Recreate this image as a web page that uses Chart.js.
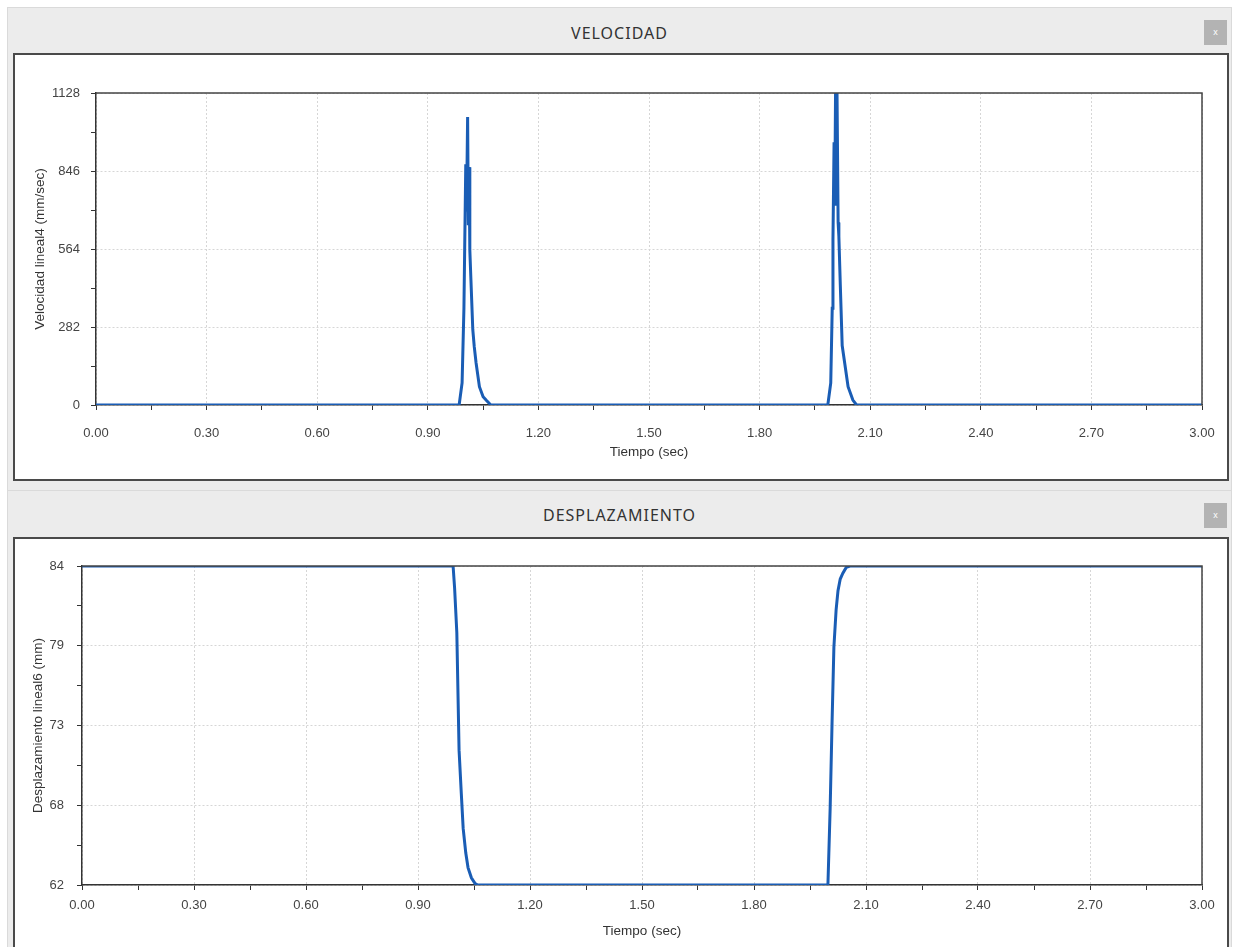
<!DOCTYPE html>
<html>
<head>
<meta charset="utf-8">
<script src="https://cdn.jsdelivr.net/npm/chart.js@4.4.1/dist/chart.umd.min.js"></script>
<style>
  html, body { margin: 0; padding: 0; background: #ffffff; width: 1235px; height: 947px; overflow: hidden; }
  .panel { position: absolute; background: #ececec; border: 1px solid #dadada; box-sizing: border-box; }
  .ptitle { position: absolute; left: 7px; width: 1225px; height: 22px; line-height: 22px; text-align: center;
            font-family: "Noto Sans", "Open Sans", sans-serif; font-size: 16px; letter-spacing: 1px; color: #333; }
  .close { position: absolute; width: 23px; height: 25px; background: #b3b3b3; color: #fff; font-family: "Liberation Sans", sans-serif;
           font-size: 9px; line-height: 25px; text-align: center; }
  .box { position: absolute; left: 13px; width: 1216px; background: #fff; border: 2px solid #4a4a4a; box-sizing: border-box; }
  canvas { position: absolute; }
</style>
</head>
<body>
<div class="panel" style="left:7px;top:7px;width:1225px;height:484px;"></div>
<div class="ptitle" style="top:22px;">VELOCIDAD</div>
<div class="close" style="left:1204px;top:20px;">x</div>
<div class="box" style="top:53px;height:428px;"></div>
<canvas id="c1" width="1212" height="424" style="left:15px;top:55px;"></canvas>

<div class="panel" style="left:7px;top:490px;width:1225px;height:470px;"></div>
<div class="ptitle" style="top:504px;">DESPLAZAMIENTO</div>
<div class="close" style="left:1204px;top:503px;">x</div>
<div class="box" style="top:537px;height:430px;"></div>
<canvas id="c2" width="1212" height="408" style="left:15px;top:539px;"></canvas>

<script>
// ---- data ----
const timeTickLabels = ['0.00','0.30','0.60','0.90','1.20','1.50','1.80','2.10','2.40','2.70','3.00'];
const velTickLabels = ['0','282','564','846','1128'];
const dispTickLabels = ['62','68','73','79','84'];

const velTime = [0, 0.985, 0.993, 0.998, 1.000, 1.003, 1.005, 1.008, 1.010, 1.012, 1.014, 1.017, 1.022, 1.026, 1.031, 1.040, 1.050, 1.058, 1.071,
                 1.985, 1.993, 1.997, 1.999, 2.002, 2.004, 2.006, 2.008, 2.010, 2.013, 2.015, 2.019, 2.024, 2.031, 2.040, 2.053, 2.063, 3.0];
const velValues = [0, 0, 80, 350, 560, 870, 700, 1041, 650, 860, 560, 452, 273, 211, 152, 66, 30, 18, 0,
                   0, 80, 350, 600, 950, 760, 1128, 720, 1128, 660, 610, 430, 215, 150, 66, 18, 0, 0];

const dispTime = [0, 0.994, 0.998, 1.004, 1.010, 1.016, 1.021, 1.028, 1.034, 1.043, 1.053, 1.060,
                  1.998, 2.004, 2.009, 2.014, 2.020, 2.025, 2.031, 2.038, 2.047, 2.057, 3.0];
const dispValues = [84, 84, 82.5, 79.4, 71.3, 68.3, 65.9, 64.2, 63.2, 62.5, 62.1, 62,
                    62, 67.3, 73.1, 78.4, 81.0, 82.3, 83.1, 83.5, 83.9, 84, 84];

// ---- styling helpers ----
const FONT = '"Liberation Sans", Arial, sans-serif';
const LINE = '#1a5db5';
const gridColor = c => (c.index % 2 === 0 ? '#d6d6d6' : 'rgba(0,0,0,0)');

const framePlugin = {
  id: 'frame',
  afterDraw(chart) {
    const a = chart.chartArea, ctx = chart.ctx;
    ctx.save();
    ctx.strokeStyle = '#444';
    ctx.lineWidth = 1.5;
    ctx.beginPath();
    ctx.moveTo(a.left, a.top); ctx.lineTo(a.right, a.top); ctx.lineTo(a.right, a.bottom);
    ctx.stroke();
    ctx.restore();
  }
};

function makeChart(id, t, v, cfg) {
  const data = t.map((x, i) => ({ x: x, y: v[i] }));
  return new Chart(document.getElementById(id), {
    type: 'line',
    data: { datasets: [{ data: data, borderColor: LINE, borderWidth: 3, pointRadius: 0, tension: 0, fill: false }] },
    options: {
      responsive: false, animation: false, devicePixelRatio: 1,
      layout: { padding: { top: cfg.padTop, right: cfg.padRight, left: 0, bottom: 0 } },
      plugins: { legend: { display: false }, tooltip: { enabled: false } },
      scales: {
        x: {
          type: 'linear', min: 0, max: 3,
          afterFit: s => { s.height = cfg.xHeight; s.paddingLeft = 0; s.paddingRight = 0; },
          ticks: { stepSize: 0.15, autoSkip: false, maxRotation: 0, padding: cfg.xTickPad, color: '#444',
                   font: { family: FONT, size: 13 },
                   callback: (val, i) => (i % 2 ? '' : timeTickLabels[i / 2]) },
          grid: { color: gridColor, tickColor: '#333', tickLength: 5, drawTicks: true },
          border: { display: true, color: '#333', width: 1.5, dash: [2, 2] },
          title: { display: true, text: 'Tiempo (sec)', color: '#333', font: { family: FONT, size: 13.5 },
                   padding: { top: 0, bottom: cfg.xTitlePad } }
        },
        y: {
          type: 'linear', min: cfg.yMin, max: cfg.yMax,
          afterFit: s => { s.width = cfg.yWidth; s.paddingTop = 0; s.paddingBottom = 0; },
          ticks: { stepSize: cfg.yStep, autoSkip: false, padding: cfg.yTickPad, color: '#444',
                   font: { family: FONT, size: 13 },
                   callback: (val, i) => (i % 2 ? '' : cfg.yLabels[i / 2]) },
          grid: { color: gridColor, tickColor: '#333', tickLength: 5, drawTicks: true },
          border: { display: true, color: '#333', width: 1.5, dash: [2, 2] },
          title: { display: true, text: cfg.yTitle, color: '#333', font: { family: FONT, size: 13.5 },
                   padding: { top: cfg.yTitlePad, bottom: 0 } }
        }
      }
    },
    plugins: [framePlugin]
  });
}

makeChart('c1', velTime, velValues, {
  padTop: 38, padRight: 25, xHeight: 74, yWidth: 81, xTickPad: 16, yTickPad: 11, xTitlePad: 19, yTitlePad: 17,
  yMin: 0, yMax: 1128, yStep: 141, yLabels: velTickLabels, yTitle: 'Velocidad lineal4 (mm/sec)'
});
makeChart('c2', dispTime, dispValues, {
  padTop: 27, padRight: 25, xHeight: 62, yWidth: 67, xTickPad: 8, yTickPad: 13, xTitlePad: 8, yTitlePad: 15,
  yMin: 62, yMax: 84, yStep: 2.75, yLabels: dispTickLabels, yTitle: 'Desplazamiento lineal6 (mm)'
});
</script>
</body>
</html>
